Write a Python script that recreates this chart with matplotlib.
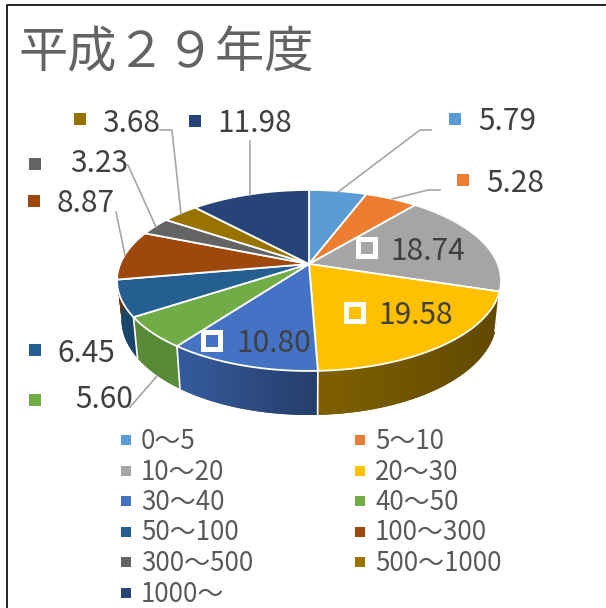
# 平成29年度 3D風の円グラフ
import numpy as np
import matplotlib
matplotlib.use('Agg')
import matplotlib.pyplot as plt
from matplotlib.patches import Polygon, Rectangle

plt.rcParams['font.family'] = ['Noto Sans CJK JP', 'DejaVu Sans']

title = '平成２９年度'
categories = ['0～5', '5～10', '10～20', '20～30', '30～40', '40～50',
              '50～100', '100～300', '300～500', '500～1000', '1000～']
values = [5.79, 5.28, 18.74, 19.58, 10.80, 5.60, 6.45, 8.87, 3.23, 3.68, 11.98]
colors = ['#5B9BD5', '#ED7D31', '#A5A5A5', '#FFC000', '#4472C4', '#70AD47',
          '#255E91', '#9E480E', '#636363', '#997300', '#264478']

# ラベルの位置 (マーカー左端, 文字左端, 文字中心y, マーカー中心y)
label_pos = [(449, 478, 122, 119), (457, 486, 183, 180), (360, 390, 251, 248),
             (348, 378, 316, 313), (205, 236, 344, 341), (29, 75, 399, 400),
             (29, 57, 354, 350), (28, 57, 204, 201), (29, 70, 163, 164),
             (74, 102, 123, 119), (189, 217, 124, 121)]
boxed = [2, 3, 4]
leaders = [[(338, 192), (420, 130), (431, 130)],
           [(392, 199), (428, 190), (440, 190)],
           None, None, None,
           [(130, 407), (157, 376)],
           None,
           [(116, 212), (125, 255)],
           [(127, 165), (128, 165), (156, 227)],
           [(160, 130), (172, 130), (181, 214)],
           [(250, 141), (250, 195)]]

CX, CY = 309, 264
A, B, K = 188.8, 87.5, 0.182
DEPTH, LOW = 38, 0.977


def project(theta, depth=0.0, scale=1.0):
    x, y = np.sin(theta), np.cos(theta)
    w = 1 + K * y
    return CX + scale * A * x / w, CY - scale * B * y / w + depth / w


def mix(col, f):
    return tuple(c * f for c in matplotlib.colors.to_rgb(col))


fig = plt.figure(figsize=(6.06, 6.08), dpi=100)
ax = fig.add_axes([0, 0, 1, 1])
ax.axis('off')

# 枠
ax.plot([6.5, 6.5, 606], [608, 5, 5], color='#111111', lw=1.3, zorder=1)

edges = 2 * np.pi * np.concatenate([[0], np.cumsum(values)]) / sum(values)

# 側面 (左から右へ暗くなるグラデーション)
side_light = [0.6, 0.6, 0.6, 0.5, 0.8, 0.8, 0.75, 0.7, 0.6, 0.6, 0.6]
side_dark = [0.5, 0.5, 0.5, 0.38, 0.55, 0.8, 0.75, 0.7, 0.6, 0.6, 0.6]
for i in range(len(values)):
    ts = np.linspace(edges[i], edges[i + 1], 60)
    xt, yt = project(ts)
    xb, yb = project(ts, DEPTH, LOW)
    pts = list(zip(xt, yt)) + list(zip(xb[::-1], yb[::-1]))
    poly = Polygon(pts, closed=True, facecolor=mix(colors[i], side_dark[i]),
                   edgecolor='none', zorder=2)
    ax.add_patch(poly)
    left, right = min(xt.min(), xb.min()), max(xt.max(), xb.max())
    grad = np.linspace(side_light[i], side_dark[i], 64)
    base = np.array(matplotlib.colors.to_rgb(colors[i]))
    rgb = grad[None, :, None] * base[None, None, :]
    im = ax.imshow(rgb, extent=[left, right, 430, 180], aspect='auto', zorder=2.5)
    im.set_clip_path(poly)
    xa, ya = project(edges[i])
    xc, yc = project(edges[i], DEPTH, LOW)
    if np.pi * 0.55 < edges[i] < np.pi * 1.4:
        ax.plot([xa, xc], [ya, yc], color='white', lw=1.2, zorder=3)

ax.set_xlim(0, 606)
ax.set_ylim(608, 0)

# 上面
for i in range(len(values)):
    ts = np.linspace(edges[i], edges[i + 1], 60)
    xs, ys = project(ts)
    pts = [(CX, CY)] + list(zip(xs, ys))
    ax.add_patch(Polygon(pts, closed=True, facecolor=colors[i], edgecolor='white',
                         lw=1.3, joinstyle='round', zorder=4))

# 引き出し線
for pts in leaders:
    if pts:
        ax.plot([p[0] for p in pts], [p[1] for p in pts],
                color='#A6A6A6', lw=1.2, zorder=5)

# データラベル
for i, (mx, tx, ty, my) in enumerate(label_pos):
    if i in boxed:
        ax.add_patch(Rectangle((mx - 4, my - 11), 22, 22, facecolor='white',
                               edgecolor='none', zorder=6))
        ax.add_patch(Rectangle((mx + 1, my - 6), 12, 12, facecolor=colors[i],
                               edgecolor='none', zorder=7))
    else:
        ax.add_patch(Rectangle((mx, my - 6), 12, 12, facecolor=colors[i],
                               edgecolor='none', zorder=7))
    ax.text(tx, ty, f'{values[i]:.2f}', fontsize=21.5, color='#404040',
            ha='left', va='center', zorder=8)

# 凡例
for i, name in enumerate(categories):
    row, col = i // 2, i % 2
    y = 440 + row * 30.5
    mx = 121 if col == 0 else 355
    ax.add_patch(Rectangle((mx, y - 5), 10, 10, facecolor=colors[i],
                           edgecolor='none', zorder=7))
    ax.text(mx + 20, y + 1.5, name, fontsize=18.7, color='#595959',
            ha='left', va='center', zorder=8)

ax.text(18, 53, title, fontsize=35.5, color='#636363', ha='left', va='center')

fig.savefig('out.png', dpi=100)
